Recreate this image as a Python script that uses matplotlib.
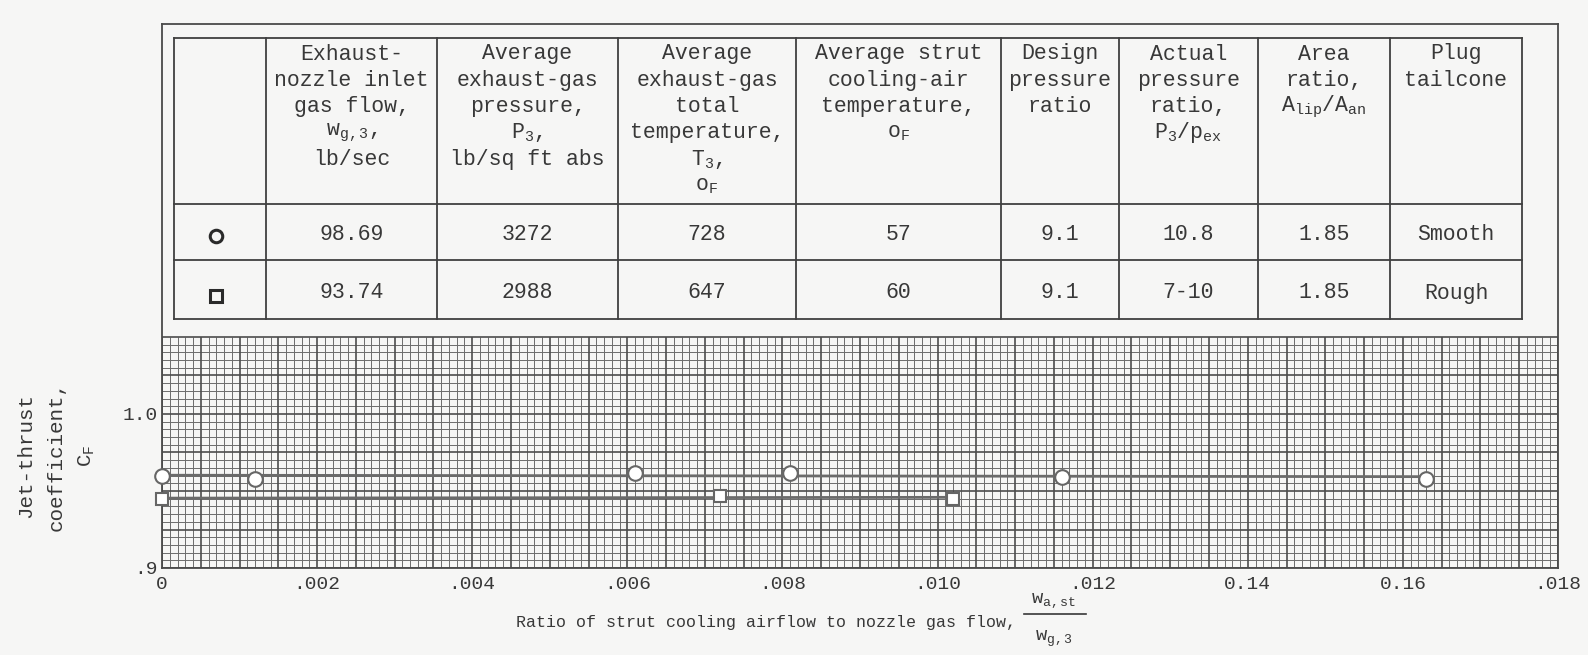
import numpy as np
import matplotlib
matplotlib.use("Agg")
import matplotlib.pyplot as plt

# Datos (circulos: tailcone liso, cuadrados: rugoso)
ratio_smooth = [0.0, 0.0012, 0.0061, 0.0081, 0.0116, 0.0163]
cf_smooth = [0.960, 0.958, 0.962, 0.962, 0.959, 0.958]
ratio_rough = [0.0, 0.0072, 0.0102]
cf_rough = [0.945, 0.947, 0.945]

x_ticks = [0.0, 0.002, 0.004, 0.006, 0.008, 0.010, 0.012, 0.014, 0.016, 0.018]
x_tick_labels = ["0", ".002", ".004", ".006", ".008", ".010", ".012", "0.14", "0.16", ".018"]
y_ticks = [0.9, 1.0]
y_tick_labels = [".9", "1.0"]

# Tabla
headers = [
    [],
    ["Exhaust-", "nozzle inlet", "gas flow,", "w$_{g,3}$,", "lb/sec"],
    ["Average", "exhaust-gas", "pressure,", "P$_3$,", "lb/sq ft abs"],
    ["Average", "exhaust-gas", "total", "temperature,", "T$_3$,", "o$_F$"],
    ["Average strut", "cooling-air", "temperature,", "o$_F$"],
    ["Design", "pressure", "ratio"],
    ["Actual", "pressure", "ratio,", "P$_3$/p$_{ex}$"],
    ["Area", "ratio,", "A$_{lip}$/A$_{an}$"],
    ["Plug", "tailcone"],
]
row_smooth = ["98.69", "3272", "728", "57", "9.1", "10.8", "1.85", "Smooth"]
row_rough = ["93.74", "2988", "647", "60", "9.1", "7-10", "1.85", "Rough"]

INK = "#383838"
GRID = "#6c6c6c"
PAPER = "#f6f6f5"

plt.rcParams["font.family"] = ["Liberation Mono", "DejaVu Sans Mono"]
plt.rcParams["mathtext.fontset"] = "custom"
plt.rcParams["mathtext.rm"] = "Liberation Mono"
plt.rcParams["mathtext.it"] = "Liberation Mono"
plt.rcParams["mathtext.bf"] = "Liberation Mono:bold"
plt.rcParams["text.color"] = INK

W, H = 1588, 655
fig = plt.figure(figsize=(W / 100, H / 100), dpi=100, facecolor=PAPER)

# ejes principales (el marco cubre tambien la zona de la tabla)
left, right, bottom, top = 162, 1558, 568, 24
ax = fig.add_axes([left / W, 1 - bottom / H, (right - left) / W, (bottom - top) / H])
ax.set_facecolor(PAPER)
ax.set_xlim(0, 0.018)
ax.set_ylim(0.9, 0.9 + (bottom - top) / 1540)

# papel milimetrado
grid_top = 1.05
xs_minor = np.arange(0, 0.018 + 1e-9, 0.0001)
ys_minor = np.arange(0.9, grid_top + 1e-9, 0.005)
heavy_x = np.isclose(np.round(xs_minor / 0.0005), xs_minor / 0.0005)
heavy_y = np.isclose(np.round((ys_minor - 0.9) / 0.025), (ys_minor - 0.9) / 0.025)
ax.vlines(xs_minor[~heavy_x], 0.9, grid_top, color=GRID, lw=0.7, zorder=1)
ax.hlines(ys_minor[~heavy_y], 0, 0.018, color=GRID, lw=0.7, zorder=1)
ax.vlines(xs_minor[heavy_x], 0.9, grid_top, color="#4c4c4c", lw=1.2, zorder=1)
ax.hlines(ys_minor[heavy_y], 0, 0.018, color="#4c4c4c", lw=1.2, zorder=1)

# curvas ajustadas
for xv, yv in [(ratio_smooth, cf_smooth), (ratio_rough, cf_rough)]:
    fit = np.polyfit(xv, yv, 1)
    xx = np.linspace(min(xv), max(xv), 50)
    ax.plot(xx, np.polyval(fit, xx), color="#6a6a6a", lw=2.0, zorder=2, clip_on=False)

ax.plot(ratio_smooth, cf_smooth, "o", ms=10.5, mfc="white", mec="#666666", mew=1.5,
        ls="none", zorder=3, clip_on=False)
ax.plot(ratio_rough, cf_rough, "s", ms=9, mfc="white", mec="#666666", mew=1.5,
        ls="none", zorder=3, clip_on=False)

ax.set_xticks(x_ticks)
ax.set_xticklabels(x_tick_labels)
ax.set_yticks(y_ticks)
ax.set_yticklabels(y_tick_labels)
ax.tick_params(axis="x", length=0, labelsize=14, colors=INK, pad=6)
ax.tick_params(axis="y", length=0, labelsize=14, colors=INK, pad=3)
for sp in ax.spines.values():
    sp.set_color("#4a4a4a")
    sp.set_linewidth(1.3)

fig.text(57 / W, 1 - 456 / H, "Jet-thrust\ncoefficient,\nC$_F$", rotation=90,
         ha="center", va="center", multialignment="center", fontsize=15, linespacing=1.75)

# titulo del eje x con fraccion escrita a mano
fig.text(1016 / W, 1 - 622 / H, "Ratio of strut cooling airflow to nozzle gas flow,",
         ha="right", va="center", fontsize=12)
fig.text(1054 / W, 1 - 601 / H, "w$_{a,st}$", ha="center", va="center", fontsize=13.5)
fig.text(1054 / W, 1 - 639 / H, "w$_{g,3}$", ha="center", va="center", fontsize=13.5)
fig.add_artist(plt.Line2D([1024 / W, 1086 / W], [1 - 614 / H, 1 - 614 / H],
                          color=INK, lw=1.2))

# tabla (capa en pixeles de la figura)
tax = fig.add_axes([0, 0, 1, 1])
tax.set_xlim(0, W)
tax.set_ylim(H, 0)
tax.axis("off")
col_x = [174, 266, 437, 618, 796, 1001, 1119, 1258, 1390, 1522]
row_y = [38, 204, 260, 319]
for y in row_y:
    tax.plot([col_x[0], col_x[-1]], [y, y], color="#404040", lw=1.3)
for x in col_x:
    tax.plot([x, x], [row_y[0], row_y[-1]], color="#404040", lw=1.3)

centers = [(a + b) / 2 for a, b in zip(col_x[:-1], col_x[1:])]
for cx, lines in zip(centers, headers):
    for i, txt in enumerate(lines):
        tax.text(cx, 54 + i * 26.3, txt, ha="center", va="center", fontsize=15.5)

for cx, val in zip(centers[1:], row_smooth):
    tax.text(cx, 234, val, ha="center", va="center", fontsize=15.5)
for cx, val in zip(centers[1:], row_rough):
    tax.text(cx, 293, val, ha="center", va="center", fontsize=15.5)
tax.plot([centers[0] - 4], [236], "o", ms=9, mfc="none", mec="#2a2a2a", mew=2.2)
tax.plot([centers[0] - 4], [296], "s", ms=8, mfc="none", mec="#2a2a2a", mew=2.2)

fig.savefig("out.png", dpi=100, facecolor=PAPER)
